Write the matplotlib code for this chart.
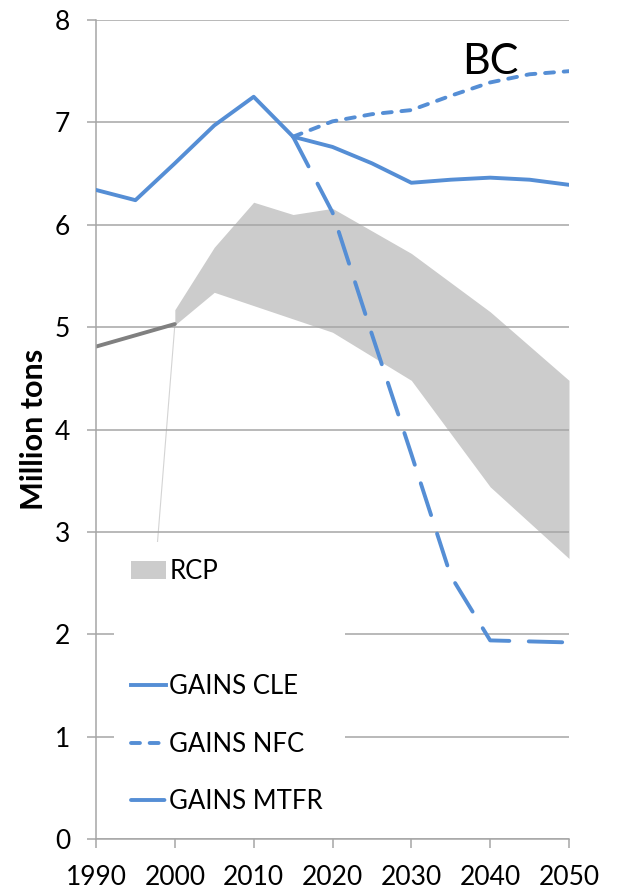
import matplotlib
matplotlib.use("Agg")
import matplotlib.pyplot as plt
from matplotlib.lines import Line2D
from matplotlib.patches import Patch

plt.rcParams["font.family"] = ["Lato", "DejaVu Sans"]

# GAINS scenarios (million tons BC)
years_cle = [1990, 1995, 2000, 2005, 2010, 2015, 2020, 2025, 2030, 2035, 2040, 2045, 2050]
cle = [6.34, 6.24, 6.60, 6.97, 7.25, 6.86, 6.76, 6.60, 6.41, 6.44, 6.46, 6.44, 6.39]

years_scen = [2015, 2020, 2025, 2030, 2035, 2040, 2045, 2050]
nfc = [6.86, 7.01, 7.08, 7.12, 7.26, 7.39, 7.47, 7.50]
mtfr = [6.86, 6.12, 4.93, 3.76, 2.57, 1.94, 1.93, 1.92]

# historical inventory
years_hist = [1990, 1995, 2000]
hist = [4.81, 4.92, 5.03]

# RCP range
years_rcp = [2000, 2005, 2010, 2015, 2020, 2030, 2040, 2050]
rcp_low = [5.02, 5.34, 5.21, 5.08, 4.95, 4.48, 3.44, 2.74]
rcp_high = [5.17, 5.78, 6.22, 6.10, 6.16, 5.72, 5.15, 4.48]

leader_x = [2000, 1997.8]
leader_y = [5.02, 2.90]

blue = "#558ed5"
grey = "#a6a6a6"
nfc_dash = (2.3, 2.5)
mtfr_dash = (8.6, 5.0)

fig = plt.figure(figsize=(6.17, 8.90), dpi=100)
ax = fig.add_axes([96 / 617, 1 - 839 / 890, (569 - 96) / 617, (839 - 20) / 890])

ax.fill_between(years_rcp, rcp_low, rcp_high, color="#cccccc", linewidth=0, zorder=0.3)
ax.plot(leader_x, leader_y, color="#d4d4d4", linewidth=0.8, zorder=0.4)
ax.plot(years_hist, hist, color="#808080", linewidth=2.8, solid_capstyle="round", zorder=2)

ax.plot(years_cle, cle, color=blue, linewidth=2.8, solid_joinstyle="round",
        solid_capstyle="round", zorder=3)
ax.plot(years_scen, nfc, color=blue, linewidth=2.8, dashes=nfc_dash,
        dash_capstyle="round", zorder=3)
ax.plot(years_scen, mtfr, color=blue, linewidth=2.8, dashes=mtfr_dash,
        dash_capstyle="round", zorder=3)

ax.text(2040, 7.59, "BC", fontsize=31, ha="center", va="center", color="black")

ax.set_xlim(1990, 2050)
ax.set_ylim(0, 8)
ax.set_xticks(range(1990, 2051, 10))
ax.set_yticks(range(0, 9))
ax.set_axisbelow(True)
ax.yaxis.grid(True, color=grey, linewidth=1.1)
ax.xaxis.grid(False)
for side in ("top", "right"):
    ax.spines[side].set_visible(False)
for side in ("left", "bottom"):
    ax.spines[side].set_color(grey)
    ax.spines[side].set_linewidth(1.1)
ax.tick_params(axis="both", direction="out", length=6.5, width=1.1, color=grey,
               labelsize=19, pad=12)
ax.set_ylabel("Million tons", fontsize=22, fontweight="bold", labelpad=5)

handles = [
    Patch(facecolor="#cccccc", edgecolor="none"),
    Line2D([], [], linestyle="none"),
    Line2D([], [], color=blue, linewidth=2.8),
    Line2D([], [], color=blue, linewidth=2.8, dashes=nfc_dash, dash_capstyle="round"),
    Line2D([], [], color=blue, linewidth=2.8, dashes=mtfr_dash, dash_capstyle="round"),
]
labels = ["RCP", "", "GAINS CLE", "GAINS NFC", "GAINS MTFR"]
leg = ax.legend(handles, labels, loc="upper left", mode="expand",
                bbox_to_anchor=(114 / 617, 1 - 542 / 890, (345 - 114) / 617, 0.0),
                bbox_transform=fig.transFigure, fontsize=18.5, frameon=True,
                facecolor="white", edgecolor="none", framealpha=1, fancybox=False,
                borderpad=0.68, borderaxespad=0, handlelength=1.35, handletextpad=0.12,
                labelspacing=1.26, handleheight=0.7)

fig.savefig("out.png", dpi=100)
